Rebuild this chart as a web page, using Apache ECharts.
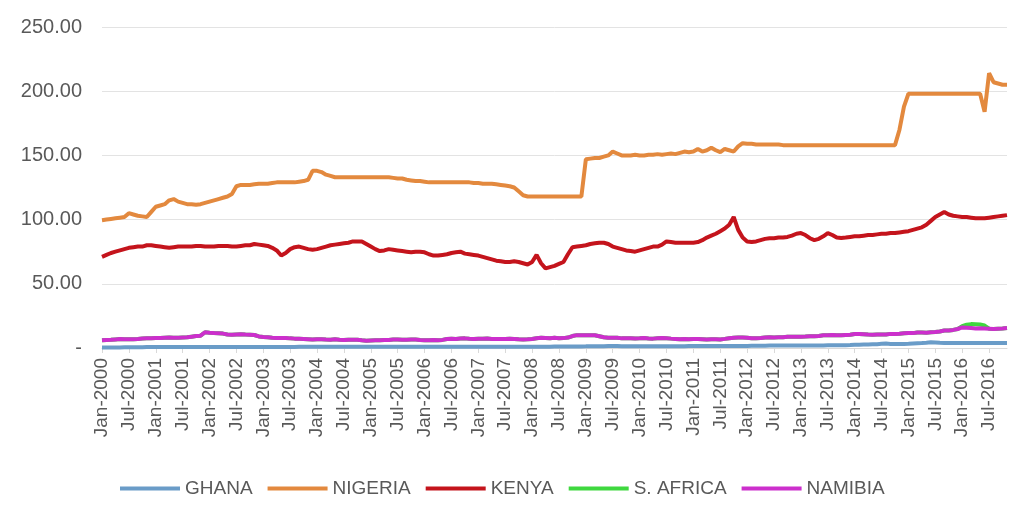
<!DOCTYPE html>
<html>
<head>
<meta charset="utf-8">
<script src="https://cdn.jsdelivr.net/npm/echarts@6/dist/echarts.min.js"></script>
<style>
html,body{margin:0;padding:0;background:#fff;}
#chart{width:1009px;height:507px;}
</style>
</head>
<body>
<div id="chart"></div>
<script>
// ---- tick labels / categories ----
const monthNames = ['Jan','Feb','Mar','Apr','May','Jun','Jul','Aug','Sep','Oct','Nov','Dec'];
const years = [2000,2001,2002,2003,2004,2005,2006,2007,2008,2009,2010,2011,2012,2013,2014,2015,2016];
const lastMonthIndex2016 = 10; // data run to Nov-2016
const yTicks = [0, 50, 100, 150, 200, 250];

// ---- series values (monthly) ----
const nigeria = [
  99.5,100,100.5,101,101.5,102,105,104,103,102.5,102,106,
  110,111,112,115,116,114,113,112,112,111.5,112,113,
  114,115,116,117,118,120,126,127,127,127,127.5,128,
  128,128,128.5,129,129,129,129,129,129.5,130,131,138,
  138,137,135,134,133,133,133,133,133,133,133,133,
  133,133,133,133,133,132.5,132,132,131,130.5,130,130,
  129.5,129,129,129,129,129,129,129,129,129,129,128.5,
  128.5,128,128,128,127.5,127,126.5,126,125,122,119,118,
  118,118,118,118,118,118,118,118,118,118,118,118,
  147,147.5,148,148,149,150,153,151.5,150,150,150,150.5,
  150,150,150.5,150.5,151,150.5,151,151.5,151,152,153,152.5,
  153,155,153,154,156,154,152.5,155,154,153,157,159.5,
  159,159,158.5,158.5,158.5,158.5,158.5,158.5,158,158,158,158,
  158,158,158,158,158,158,158,158,158,158,158,158,
  158,158,158,158,158,158,158,158,158,158,170,188,
  198,198,198,198,198,198,198,198,198,198,198,198,
  198,198,198,198,198,184,214,207,206,205,205
];
const kenya = [
  71,72.5,74,75,76,77,78,78.5,79,79,80,80,
  79.5,79,78.5,78,78.5,79,79,79,79,79.5,79.5,79,
  79,79,79.5,79.5,79.5,79,79,79.5,80,80,81,80.5,
  80,79.5,78,76,72,74,77,78.5,79,78,77,76.5,
  77,78,79,80,80.5,81,81.5,82,83,83,83,81,
  79,77,75.5,76,77,76.5,76,75.5,75,74.5,75,75,
  74.5,73,72,72,72.5,73,74,74.5,75,73.5,73,72.5,
  72,71,70,69,68,67.5,67,67,67.5,67,66,65,
  67,72.5,66,62,63,64,65.5,67,73,78.5,79,79.5,
  80,81,81.5,82,82,81,79,78,77,76,75.5,75,
  76,77,78,79,79,80.5,83,82.5,82,82,82,82,
  82,82.5,84,86,87.5,89,91,93,96,102,92,86,
  83,82.5,83,84,85,85.5,85.5,86,86,86.5,87.5,89,
  89.5,88,85.5,84,85,87,89.5,88,86,85.6,86,86.5,
  87,87,87.5,88,88,88.5,89,89,89.5,89.5,90,90.5,
  91,92,93,94,96,99,102,104,106,104,103,102.5,
  102,102,101.5,101,101,101,101.5,102,102.5,103,103.5
];
const namibia = [
  6.1,6.3,6.4,6.7,7.0,6.9,6.8,6.9,7.1,7.4,7.6,7.6,
  7.7,7.8,8.0,8.1,8.0,8.0,8.2,8.3,8.8,9.3,9.6,12.3,
  11.9,11.6,11.4,11.2,10.5,10.4,10.6,10.7,10.5,10.4,10.1,9.0,
  8.6,8.4,8.0,7.8,7.8,7.8,7.5,7.3,7.2,7.0,6.8,6.6,
  6.9,6.8,6.6,6.5,6.8,6.4,6.2,6.5,6.5,6.4,6.0,5.7,
  5.9,6.0,6.0,6.2,6.3,6.7,6.7,6.4,6.4,6.6,6.6,6.3,
  6.1,6.1,6.2,6.1,6.3,7.0,7.2,7.0,7.4,7.5,7.2,7.0,
  7.2,7.2,7.4,7.1,7.0,7.1,7.0,7.2,7.1,6.8,6.7,6.8,
  7.0,7.6,7.9,7.8,7.6,7.9,7.6,7.7,8.1,9.3,10.0,9.9,
  9.9,10.0,9.9,9.2,8.4,8.0,7.9,7.9,7.5,7.5,7.5,7.4,
  7.5,7.7,7.4,7.3,7.6,7.7,7.6,7.3,7.1,6.9,7.0,6.9,
  7.0,7.1,6.9,6.7,6.9,6.8,6.7,7.1,7.6,8.0,8.1,8.1,
  8.0,7.6,7.6,7.8,8.1,8.4,8.2,8.3,8.3,8.7,8.8,8.7,
  8.8,8.9,9.2,9.1,9.4,10.0,9.9,10.1,10.0,9.9,10.2,10.3,
  10.9,10.9,10.8,10.5,10.4,10.6,10.6,10.6,11.0,11.0,11.1,11.5,
  11.6,11.6,12.1,12.0,11.9,12.3,12.4,12.9,13.6,13.6,14.1,14.8,
  16.0,15.8,15.5,15.2,15.3,15.2,15.0,14.8,15.0,15.2,15.5
];
const safrica = [
  6.1,6.3,6.4,6.7,7.0,6.9,6.8,6.9,7.1,7.4,7.6,7.6,
  7.7,7.8,8.0,8.1,8.0,8.0,8.2,8.3,8.8,9.3,9.6,12.3,
  11.9,11.6,11.4,11.2,10.5,10.4,10.6,10.7,10.5,10.4,10.1,9.0,
  8.6,8.4,8.0,7.8,7.8,7.8,7.5,7.3,7.2,7.0,6.8,6.6,
  6.9,6.8,6.6,6.5,6.8,6.4,6.2,6.5,6.5,6.4,6.0,5.7,
  5.9,6.0,6.0,6.2,6.3,6.7,6.7,6.4,6.4,6.6,6.6,6.3,
  6.1,6.1,6.2,6.1,6.3,7.0,7.2,7.0,7.4,7.5,7.2,7.0,
  7.2,7.2,7.4,7.1,7.0,7.1,7.0,7.2,7.1,6.8,6.7,6.8,
  7.0,7.6,7.9,7.8,7.6,7.9,7.6,7.7,8.1,9.3,10.0,9.9,
  9.9,10.0,9.9,9.2,8.4,8.0,7.9,7.9,7.5,7.5,7.5,7.4,
  7.5,7.7,7.4,7.3,7.6,7.7,7.6,7.3,7.1,6.9,7.0,6.9,
  7.0,7.1,6.9,6.7,6.9,6.8,6.7,7.1,7.6,8.0,8.1,8.1,
  8.0,7.6,7.6,7.8,8.1,8.4,8.2,8.3,8.3,8.7,8.8,8.7,
  8.8,8.9,9.2,9.1,9.4,10.0,9.9,10.1,10.0,9.9,10.2,10.3,
  10.9,10.9,10.8,10.5,10.4,10.6,10.6,10.6,11.0,11.0,11.1,11.5,
  11.6,11.6,12.1,12.0,11.9,12.3,12.4,12.9,13.6,13.6,14.1,14.8,
  17.0,18.2,18.6,18.5,18.3,17.5,15.0,14.8,15.0,15.2,15.5
];
const ghana = [
  0.36,0.38,0.40,0.42,0.44,0.50,0.56,0.62,0.66,0.68,0.70,0.70,
  0.71,0.71,0.71,0.71,0.72,0.72,0.72,0.72,0.73,0.73,0.73,0.73,
  0.74,0.75,0.76,0.77,0.78,0.79,0.80,0.81,0.82,0.83,0.84,0.84,
  0.85,0.86,0.87,0.87,0.87,0.87,0.87,0.87,0.88,0.88,0.88,0.88,
  0.88,0.89,0.89,0.89,0.89,0.90,0.90,0.90,0.90,0.90,0.90,0.91,
  0.91,0.91,0.91,0.91,0.91,0.91,0.91,0.91,0.91,0.91,0.91,0.91,
  0.91,0.91,0.92,0.92,0.92,0.92,0.92,0.92,0.92,0.92,0.93,0.93,
  0.93,0.93,0.94,0.94,0.94,0.94,0.94,0.94,0.95,0.96,0.97,0.97,
  0.98,0.98,0.98,1.00,1.05,1.10,1.12,1.14,1.17,1.19,1.22,1.26,
  1.30,1.38,1.42,1.44,1.45,1.48,1.50,1.47,1.43,1.43,1.43,1.43,
  1.43,1.43,1.43,1.43,1.43,1.43,1.43,1.43,1.43,1.43,1.45,1.48,
  1.50,1.52,1.52,1.53,1.53,1.53,1.54,1.55,1.56,1.57,1.58,1.60,
  1.65,1.72,1.77,1.79,1.83,1.90,1.97,1.96,1.88,1.88,1.89,1.90,
  1.90,1.92,1.95,1.95,1.97,2.00,2.05,2.08,2.12,2.17,2.20,2.28,
  2.45,2.60,2.70,2.80,2.90,3.00,3.25,3.45,3.20,3.20,3.20,3.20,
  3.30,3.50,3.70,3.85,4.10,4.40,4.30,4.00,3.80,3.90,3.80,3.80,
  3.85,3.90,3.85,3.80,3.85,3.90,3.95,3.95,3.97,3.98,3.98
];
const seriesNames = ['GHANA','NIGERIA','KENYA','S. AFRICA','NAMIBIA'];
const seriesColors = ['#6a9cc8','#e3893e','#c4141c','#3fd83f','#cc2fcc'];

// ---- build categories ----
const categories = [];
years.forEach(function (y) {
  const last = (y === 2016) ? lastMonthIndex2016 : 11;
  for (let m = 0; m <= last; m++) categories.push(monthNames[m] + '-' + y);
});

const seriesData = [ghana, nigeria, kenya, safrica, namibia];
const chart = echarts.init(document.getElementById('chart'), null, {renderer: 'canvas'});
chart.setOption({
  animation: false,
  backgroundColor: '#ffffff',
  grid: {left: 102, right: 2, top: 27, bottom: 159, containLabel: false},
  legend: {
    bottom: 4,
    left: 115,
    icon: 'rect',
    itemWidth: 60,
    itemHeight: 4,
    itemGap: 15,
    textStyle: {color: '#595959', fontSize: 19, fontFamily: 'Liberation Sans'},
    data: seriesNames
  },
  xAxis: {
    type: 'category',
    data: categories,
    boundaryGap: false,
    axisLine: {show: true, lineStyle: {color: '#d9d9d9', width: 1}},
    axisTick: {show: true, interval: 5, length: 5, lineStyle: {color: '#d9d9d9'}},
    axisLabel: {
      interval: 5,
      rotate: 90,
      margin: 10,
      color: '#595959',
      fontSize: 19,
      fontFamily: 'Liberation Sans'
    },
    splitLine: {show: false}
  },
  yAxis: {
    type: 'value',
    min: yTicks[0],
    max: yTicks[yTicks.length - 1],
    interval: 50,
    axisLine: {show: false},
    axisTick: {show: false},
    splitLine: {lineStyle: {color: '#e3e3e3', width: 1}},
    axisLabel: {
      margin: 20,
      color: '#595959',
      fontSize: 20,
      fontFamily: 'Liberation Sans',
      formatter: function (v) { return v === 0 ? '-' : v.toFixed(2); }
    }
  },
  series: seriesNames.map(function (name, i) {
    return {
      name: name,
      type: 'line',
      data: seriesData[i],
      symbol: 'none',
      smooth: false,
      lineStyle: {color: seriesColors[i], width: 4},
      itemStyle: {color: seriesColors[i]},
      z: 2 + i
    };
  })
});
</script>
</body>
</html>
